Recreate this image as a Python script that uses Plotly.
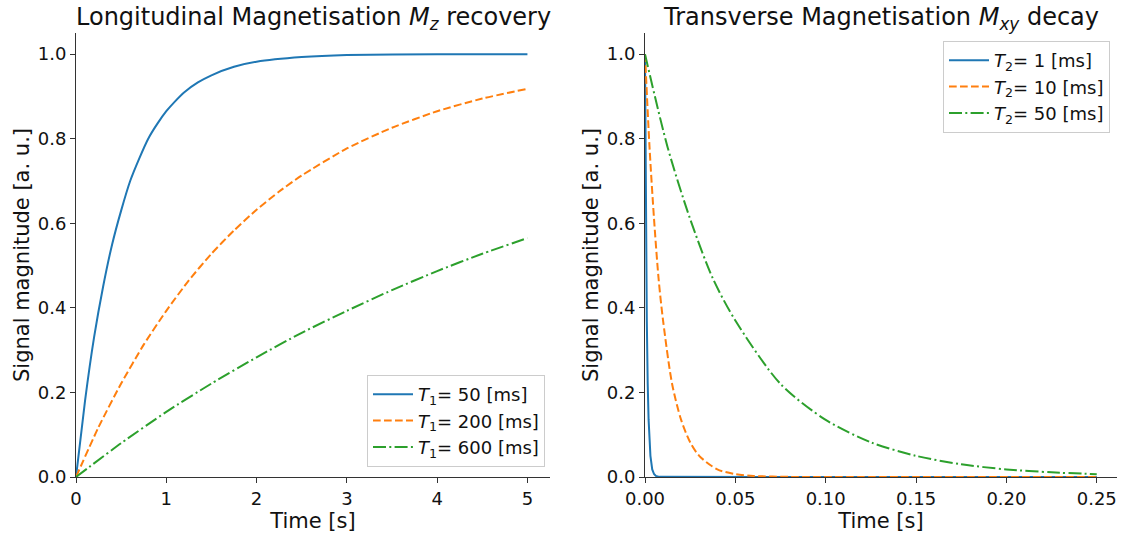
import plotly.graph_objects as go

# ---- data ----
t1_labels = ["<i>T</i><sub>1</sub>= 50 [ms]", "<i>T</i><sub>1</sub>= 200 [ms]", "<i>T</i><sub>1</sub>= 600 [ms]"]
t2_labels = ["<i>T</i><sub>2</sub>= 1 [ms]", "<i>T</i><sub>2</sub>= 10 [ms]", "<i>T</i><sub>2</sub>= 50 [ms]"]

mz_t_50 = [0, 0.1, 0.2, 0.3, 0.4, 0.5, 0.6, 0.7, 0.8, 0.9, 1.0, 1.1, 1.2, 1.35, 1.5, 1.75, 2.0, 2.5, 3.0, 4.0, 5.0]
mz_y_50 = [0, 0.18, 0.33, 0.45, 0.55, 0.63, 0.70, 0.753, 0.80, 0.835, 0.865, 0.889, 0.91, 0.933, 0.95, 0.97, 0.982, 0.993, 0.998, 1.0, 1.0]
mz_t_200 = [0, 0.25, 0.5, 0.75, 1.0, 1.25, 1.5, 1.75, 2.0, 2.25, 2.5, 3.0, 3.5, 4.0, 4.5, 5.0]
mz_y_200 = [0, 0.118, 0.221, 0.313, 0.393, 0.465, 0.528, 0.583, 0.632, 0.675, 0.713, 0.777, 0.826, 0.865, 0.895, 0.918]
mz_t_600 = [0, 0.5, 1.0, 1.5, 2.0, 2.5, 3.0, 3.5, 4.0, 4.5, 5.0]
mz_y_600 = [0, 0.08, 0.154, 0.221, 0.283, 0.341, 0.393, 0.442, 0.487, 0.528, 0.565]

mxy_t_1 = [0, 0.0005, 0.001, 0.0015, 0.002, 0.003, 0.004, 0.005, 0.006, 0.008, 0.25]
mxy_y_1 = [1, 0.61, 0.37, 0.22, 0.135, 0.05, 0.018, 0.007, 0.0025, 0.0003, 0]
mxy_t_10 = [0, 0.0025, 0.005, 0.0075, 0.01, 0.015, 0.02, 0.025, 0.03, 0.04, 0.05, 0.06, 0.08, 0.1, 0.25]
mxy_y_10 = [1, 0.78, 0.61, 0.47, 0.37, 0.22, 0.135, 0.082, 0.05, 0.018, 0.007, 0.0025, 0.0003, 0, 0]
mxy_t_50 = [0, 0.0125, 0.025, 0.0375, 0.05, 0.075, 0.1, 0.125, 0.15, 0.175, 0.2, 0.225, 0.25]
mxy_y_50 = [1, 0.78, 0.61, 0.47, 0.37, 0.22, 0.135, 0.082, 0.05, 0.03, 0.018, 0.011, 0.0067]

x_ticks_left = [0, 1, 2, 3, 4, 5]
x_ticks_right = [0.00, 0.05, 0.10, 0.15, 0.20, 0.25]
y_ticks = [0.0, 0.2, 0.4, 0.6, 0.8, 1.0]

colors = ["#1f77b4", "#ff7f0e", "#2ca02c"]
dashes = ["solid", "7.7px,3.3px", "13px,3.3px,2px,3.3px"]

FONT = "DejaVu Sans"

# plot area in pixels
L, R, T, B = 76, 1124 - 1117, 33, 536 - 477
PW = 1124 - L - R
PH = 536 - T - B

fig = go.Figure()

for i, (x, y) in enumerate([(mz_t_50, mz_y_50), (mz_t_200, mz_y_200), (mz_t_600, mz_y_600)]):
    fig.add_trace(go.Scatter(x=x, y=y, mode="lines", name=t1_labels[i],
                             line=dict(color=colors[i], width=2, dash=dashes[i], shape="spline", smoothing=0.6),
                             xaxis="x", yaxis="y", legend="legend"))
for i, (x, y) in enumerate([(mxy_t_1, mxy_y_1), (mxy_t_10, mxy_y_10), (mxy_t_50, mxy_y_50)]):
    fig.add_trace(go.Scatter(x=x, y=y, mode="lines", name=t2_labels[i],
                             line=dict(color=colors[i], width=2, dash=dashes[i],
                                       shape="linear" if i == 0 else "spline", smoothing=0.8),
                             xaxis="x2", yaxis="y2", legend="legend2"))

axis_common = dict(showgrid=False, zeroline=False, showline=True, linecolor="#333", linewidth=1,
                   ticks="outside", ticklen=5, tickwidth=1, tickcolor="#333", automargin=False,
                   tickfont=dict(family=FONT, size=18, color="#111"),
                   title_font=dict(family=FONT, size=21, color="#111"), mirror=False)

legend_common = dict(bgcolor="rgba(255,255,255,0.8)", bordercolor="#cccccc", borderwidth=1,
                     font=dict(family=FONT, size=18, color="#111"), tracegroupgap=0, itemwidth=40)

fig.update_layout(
    width=1124, height=536,
    margin=dict(l=L, r=R, t=T, b=B),
    paper_bgcolor="white", plot_bgcolor="white",
    font=dict(family=FONT, color="#111"),
    xaxis=dict(domain=[0, (550 - L) / PW], range=[0, 5.25], tickvals=x_ticks_left,
               title=dict(text="Time [s]", standoff=1), anchor="y", **axis_common),
    yaxis=dict(domain=[0, 1], range=[0, 1.05], tickvals=y_ticks, tickformat=".1f",
               title=dict(text="Signal magnitude [a. u.]", standoff=2), anchor="x", **axis_common),
    xaxis2=dict(domain=[(645 - L) / PW, 1], range=[0, 0.2612], tickvals=x_ticks_right, tickformat=".2f",
                title=dict(text="Time [s]", standoff=1), anchor="y2", **axis_common),
    yaxis2=dict(domain=[0, 1], range=[0, 1.05], tickvals=y_ticks, tickformat=".1f",
                title=dict(text="Signal magnitude [a. u.]", standoff=2), anchor="x2", **axis_common),
    legend=dict(x=(545 - L) / PW, y=(477 - 467) / PH, xanchor="right", yanchor="bottom", **legend_common),
    legend2=dict(x=(1110 - L) / PW, y=(477 - 41) / PH, xanchor="right", yanchor="top", **legend_common),
    annotations=[
        dict(text="Longitudinal Magnetisation <i>M<sub>z</sub></i> recovery", xref="paper", yref="paper",
             x=((76 + 550) / 2 - L) / PW, y=1 + (33 - 18) / PH, xanchor="center", yanchor="middle",
             showarrow=False, font=dict(family=FONT, size=24, color="#111")),
        dict(text="Transverse Magnetisation <i>M<sub>xy</sub></i> decay", xref="paper", yref="paper",
             x=((645 + 1117) / 2 - L) / PW, y=1 + (33 - 18) / PH, xanchor="center", yanchor="middle",
             showarrow=False, font=dict(family=FONT, size=24, color="#111")),
    ],
)

fig.write_html("out.html")
